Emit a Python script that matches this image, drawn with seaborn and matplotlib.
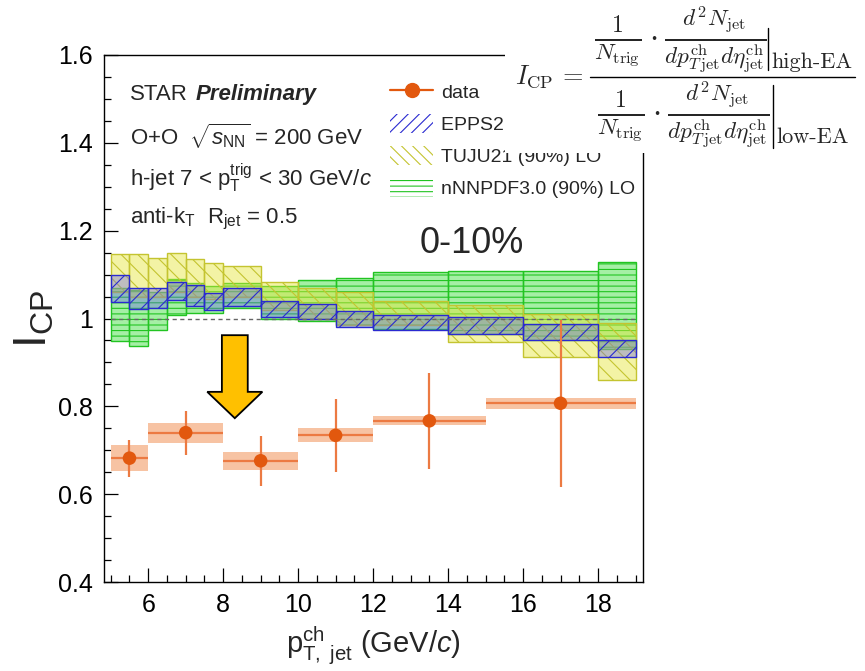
import numpy as np
import pandas as pd
import matplotlib
matplotlib.use("Agg")
import matplotlib.pyplot as plt
import seaborn as sns
from matplotlib.patches import Rectangle, Patch, FancyArrow
from matplotlib.lines import Line2D
from matplotlib.ticker import MultipleLocator, FuncFormatter

# ---------------- data ----------------
# measured I_CP, 0-10% event activity
bin_lo = [5, 6, 8, 10, 12, 15]
bin_hi = [6, 8, 10, 12, 15, 19]
icp = [0.682, 0.740, 0.676, 0.734, 0.767, 0.807]
stat_err = [0.042, 0.050, 0.057, 0.083, 0.109, 0.190]
sys_err = [0.030, 0.023, 0.020, 0.016, 0.010, 0.012]

# model bands (90% CL, LO)
model_edges = [5, 5.5, 6, 6.5, 7, 7.5, 8, 9, 10, 11, 12, 14, 16, 18, 19]
epps_lo = [1.038, 1.022, 1.025, 1.041, 1.028, 1.019, 1.028, 1.003, 0.998, 0.980, 0.974, 0.965, 0.951, 0.912]
epps_hi = [1.099, 1.069, 1.069, 1.082, 1.076, 1.057, 1.069, 1.040, 1.033, 1.017, 1.008, 1.003, 0.987, 0.951]
tuju_lo = [1.060, 1.050, 1.050, 1.060, 1.050, 1.045, 1.050, 1.020, 1.000, 0.985, 0.985, 0.947, 0.913, 0.860]
tuju_hi = [1.148, 1.147, 1.137, 1.150, 1.135, 1.126, 1.119, 1.084, 1.070, 1.060, 1.040, 1.030, 1.010, 0.990]
nnpdf_lo = [0.949, 0.938, 0.974, 1.008, 1.012, 1.012, 1.025, 1.000, 0.995, 0.985, 0.975, 0.965, 0.951, 0.930]
nnpdf_hi = [1.070, 1.065, 1.060, 1.090, 1.080, 1.075, 1.080, 1.075, 1.088, 1.093, 1.106, 1.109, 1.109, 1.128]

x_ticks = [6, 8, 10, 12, 14, 16, 18]
y_ticks = [0.4, 0.6, 0.8, 1.0, 1.2, 1.4, 1.6]

# ---------------- style ----------------
sns.set_style("ticks")
plt.rcParams["font.family"] = ["Liberation Sans", "DejaVu Sans"]
plt.rcParams["mathtext.fontset"] = "custom"
plt.rcParams["mathtext.rm"] = "Liberation Sans"
plt.rcParams["mathtext.it"] = "Liberation Sans:italic"
plt.rcParams["mathtext.bf"] = "Liberation Sans:bold"
plt.rcParams["mathtext.sf"] = "Liberation Sans"
plt.rcParams["hatch.linewidth"] = 0.8

W, H = 865, 671
fig = plt.figure(figsize=(W / 100, H / 100), dpi=100)
ax = fig.add_axes([104 / W, (H - 582) / H, 539 / W, 527 / H])

def fp(x, y):
    """pixel position (from top-left) -> figure fraction"""
    return x / W, 1 - y / H

# ---------------- model bands ----------------
edges = np.array(model_edges)
left = edges[:-1]
width = np.diff(edges)

bands = [
    ("nNNPDF3.0 (90%) LO", nnpdf_lo, nnpdf_hi, (0.30, 0.88, 0.30, 0.50), "#22c422", "---", 1),
    ("TUJU21 (90%) LO", tuju_lo, tuju_hi, (0.90, 0.90, 0.22, 0.45), "#c4c430", "\\\\", 2),
    ("EPPS21 (90%) LO", epps_lo, epps_hi, (0.40, 0.40, 0.92, 0.38), "#2a2ad0", "//", 3),
]
for name, lo, hi, fc, ec, hatch, z in bands:
    lo = np.array(lo)
    hi = np.array(hi)
    ax.bar(left, hi - lo, bottom=lo, width=width, align="edge",
           facecolor=fc, edgecolor=ec, hatch=hatch, linewidth=1.0, zorder=z)

ax.hlines(1.0, 5, 19, colors="#666666", linestyles=(0, (3, 2.5)), linewidth=1.0, zorder=4)

# ---------------- data ----------------
df = pd.DataFrame({
    "lo": bin_lo, "hi": bin_hi, "icp": icp, "stat": stat_err, "sys": sys_err,
})
df["pt"] = (df["lo"] + df["hi"]) / 2

orange = "#e2580e"
line_orange = "#ec7a42"
ax.bar(df["lo"], 2 * df["sys"], bottom=df["icp"] - df["sys"], width=df["hi"] - df["lo"],
       align="edge", color="#f7c3a3", linewidth=0, zorder=5)
ax.hlines(df["icp"], df["lo"], df["hi"], colors=line_orange, linewidth=1.6, zorder=6)
ax.vlines(df["pt"], df["icp"] - df["stat"], df["icp"] + df["stat"],
          colors=line_orange, linewidth=1.6, zorder=6)
sns.scatterplot(data=df, x="pt", y="icp", ax=ax, color=orange, s=95,
                edgecolor="none", zorder=7, legend=False)

# downward arrow
ax.add_patch(FancyArrow(8.31, 0.962, 0, -0.189, width=0.69, head_width=1.47,
                        head_length=0.06, length_includes_head=True,
                        facecolor="#ffc000", edgecolor="black", linewidth=1.3, zorder=8))

# ---------------- axes ----------------
ax.set_xlim(4.82, 19.2)
ax.set_ylim(0.4, 1.6)
ax.set_xticks(x_ticks)
ax.set_yticks(y_ticks)
ax.xaxis.set_minor_locator(MultipleLocator(0.5))
ax.yaxis.set_minor_locator(MultipleLocator(0.05))
ax.yaxis.set_major_formatter(FuncFormatter(lambda v, p: f"{v:g}"))
ax.tick_params(which="both", direction="in", top=False, right=False, width=0.9, colors="black")
ax.tick_params(which="major", length=10, labelsize=18, pad=8)
ax.tick_params(which="minor", length=5)
for s in ax.spines.values():
    s.set_linewidth(1.0)
    s.set_color("black")
ax.set_xlabel(r"p$^{\rm ch}_{\rm T,\ jet}$ (GeV/$c$)", fontsize=21)
ax.xaxis.set_label_coords(0.5, -0.08)
ax.set_ylabel(r"I$_{\rm CP}$", fontsize=33)
ax.yaxis.set_label_coords(-0.089, 0.5)

# ---------------- labels ----------------
tx = 0.048
t_star = ax.text(tx, 0.925, "STAR", transform=ax.transAxes, fontsize=16, va="center")
ax.annotate("Preliminary", xy=(1, 0.5), xycoords=t_star, xytext=(6, 0),
            textcoords="offset points", fontsize=16, fontweight="bold",
            fontstyle="italic", va="center")
ax.text(tx, 0.846, r"O+O  $\sqrt{s_{\rm NN}}$ = 200 GeV", transform=ax.transAxes,
        fontsize=16, va="center")
ax.text(tx, 0.766, r"h-jet 7 < p$_{\rm T}^{\rm trig}$ < 30 GeV/$c$", transform=ax.transAxes,
        fontsize=16, va="center")
ax.text(tx, 0.688, r"anti-k$_{\rm T}$  R$_{\rm jet}$ = 0.5", transform=ax.transAxes,
        fontsize=16, va="center")
ax.text(0.683, 0.643, "0-10%", transform=ax.transAxes, fontsize=26,
        ha="center", va="center")

# ---------------- legend ----------------
handles = [
    Line2D([], [], color=orange, marker="o", markersize=10, lw=1.6,
           markeredgecolor=orange),
    Patch(facecolor="none", edgecolor="#2a2ad0", hatch="///", linewidth=0),
    Patch(facecolor="none", edgecolor="#c4c430", hatch="\\\\\\", linewidth=0),
    Patch(facecolor="none", edgecolor="#22c422", hatch="---", linewidth=0),
]
labels = ["data", "EPPS21 (90%) LO", "TUJU21 (90%) LO", "nNNPDF3.0 (90%) LO"]
ax.legend(handles, labels, loc="upper left", bbox_to_anchor=(0.531, 0.948),
          frameon=False, fontsize=14, borderpad=0, borderaxespad=0,
          handlelength=2.2, handleheight=1.1, handletextpad=0.4, labelspacing=0.62)

# ---------------- definition of I_CP ----------------
fig.patches.append(Rectangle(fp(505, 153), 360 / W, 153 / H, transform=fig.transFigure,
                             facecolor="white", edgecolor="none", zorder=10))
fig.text(*fp(515, 77), r"$I_{\rm CP}\,=$", math_fontfamily="cm", fontsize=19,
         va="center", ha="left", zorder=11)
fig.add_artist(Line2D([590 / W, 855 / W], [1 - 77 / H] * 2, transform=fig.transFigure,
                      color="black", lw=1.0, zorder=11))
frac = r"$\frac{1}{N_{\rm trig}}\cdot\frac{d^2N_{\rm jet}}{dp^{\rm ch}_{T\,{\rm jet}}d\eta^{\rm ch}_{\rm jet}}$"
fig.text(*fp(594, 40), frac, math_fontfamily="cm", fontsize=24, va="center", ha="left", zorder=11)
fig.text(*fp(597, 115), frac, math_fontfamily="cm", fontsize=24, va="center", ha="left", zorder=11)
fig.add_artist(Line2D([768 / W] * 2, [1 - 28 / H, 1 - 70 / H], transform=fig.transFigure,
                      color="black", lw=1.0, zorder=11))
fig.add_artist(Line2D([773 / W] * 2, [1 - 85 / H, 1 - 148 / H], transform=fig.transFigure,
                      color="black", lw=1.0, zorder=11))
fig.text(*fp(771, 62), "high-EA", family=["cmr10", "DejaVu Serif"], fontsize=16,
         va="center", ha="left", zorder=11)
fig.text(*fp(776, 137), "low-EA", family=["cmr10", "DejaVu Serif"], fontsize=16,
         va="center", ha="left", zorder=11)

fig.savefig("out.png", dpi=100)
